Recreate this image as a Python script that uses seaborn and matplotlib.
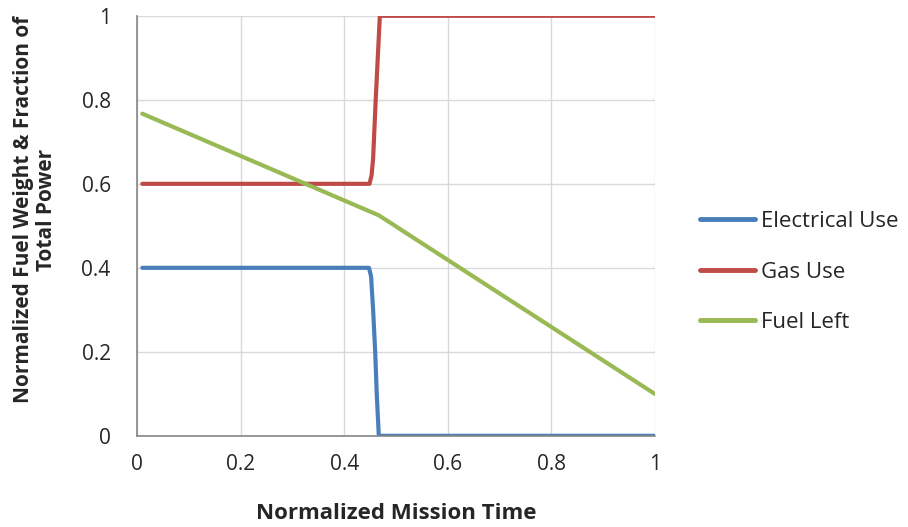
import numpy as np
import pandas as pd
import matplotlib
matplotlib.use("Agg")
import matplotlib.pyplot as plt
import seaborn as sns

# Data
time_elec = [0.01, 0.448, 0.452, 0.456, 0.460, 0.463, 0.467, 1.0]
elec_use = [0.40, 0.40, 0.38, 0.30, 0.20, 0.10, 0.0, 0.0]
time_gas = [0.01, 0.449, 0.453, 0.456, 0.461, 0.465, 0.469, 1.0]
gas_use = [0.60, 0.60, 0.62, 0.66, 0.80, 0.90, 1.0, 1.0]
time_fuel = [0.01, 0.467, 1.0]
fuel_left = [0.767, 0.525, 0.10]

series_names = ["Electrical Use", "Gas Use", "Fuel Left"]
colors = ["#4A7EBB", "#BE4B48", "#98B954"]
x_ticks = [0, 0.2, 0.4, 0.6, 0.8, 1]
x_tick_labels = ["0", "0.2", "0.4", "0.6", "0.8", "1"]
y_ticks = [0, 0.2, 0.4, 0.6, 0.8, 1]
y_tick_labels = ["0", "0.2", "0.4", "0.6", "0.8", "1"]

frames = []
for name, t, v in zip(series_names, [time_elec, time_gas, time_fuel], [elec_use, gas_use, fuel_left]):
    frames.append(pd.DataFrame({"time": t, "value": v, "series": name}))
df = pd.concat(frames, ignore_index=True)

sns.set_style("white")
plt.rcParams["font.family"] = ["Open Sans", "DejaVu Sans"]

fig = plt.figure(figsize=(9.08, 5.27), dpi=100)
ax = fig.add_axes([0.151, 0.173, 0.570, 0.797])

sns.lineplot(data=df, x="time", y="value", hue="series", hue_order=series_names,
             palette=colors, linewidth=3.0, ax=ax, sort=False, estimator=None,
             solid_capstyle="round", solid_joinstyle="round")

ax.set_xlim(0, 1)
ax.set_ylim(0, 1)
ax.set_xticks(x_ticks)
ax.set_xticklabels(x_tick_labels, fontsize=15)
ax.set_yticks(y_ticks)
ax.set_yticklabels(y_tick_labels, fontsize=15)
ax.grid(True, color="#D9D9D9", linewidth=1.0)
ax.set_axisbelow(True)
for s in ["top", "right"]:
    ax.spines[s].set_visible(False)
for s in ["left", "bottom"]:
    ax.spines[s].set_color("#868686")
    ax.spines[s].set_linewidth(1.2)
ax.tick_params(axis="both", direction="out", length=5, color="#868686", width=1.2)
ax.tick_params(axis="y", pad=14)
ax.tick_params(axis="x", pad=8)

ax.set_xlabel("Normalized Mission Time", fontsize=16, fontweight="bold")
ax.set_ylabel("Normalized Fuel Weight & Fraction of\nTotal Power", fontsize=15,
              fontweight="bold", linespacing=1.1)
ax.xaxis.set_label_coords(0.5, -0.16)
ax.yaxis.set_label_coords(-0.155, 0.538)

leg = ax.legend(loc="center left", bbox_to_anchor=(1.087, 0.39), frameon=False,
                fontsize=16, handlelength=2.5, labelspacing=1.33, handletextpad=0.25,
                borderaxespad=0, borderpad=0)
for line in leg.get_lines():
    line.set_linewidth(3.5)
    line.set_solid_capstyle("round")

fig.savefig("out.png", dpi=100)
